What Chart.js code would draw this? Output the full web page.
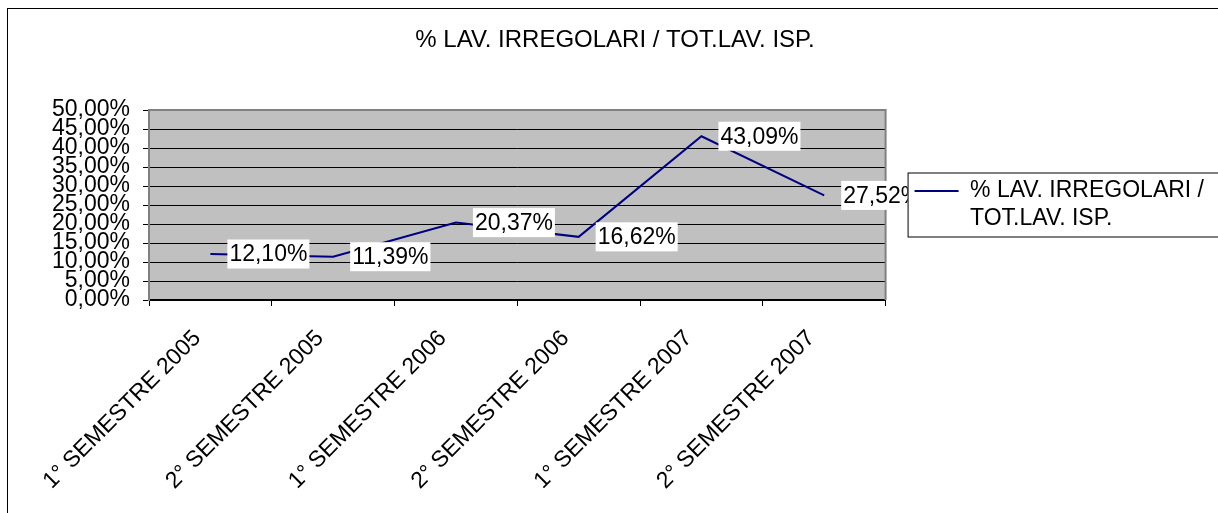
<!DOCTYPE html>
<html>
<head>
<meta charset="utf-8">
<script src="https://cdn.jsdelivr.net/npm/chart.js@4.4.1/dist/chart.umd.min.js"></script>
<style>
  html, body { margin: 0; padding: 0; background: #fff; }
  #wrap { width: 1218px; height: 513px; position: relative; }
</style>
</head>
<body>
<div id="wrap"><canvas id="my-chart"></canvas></div>
<script>
'use strict';

// ******** DATA **************
let chartTitle = '% LAV. IRREGOLARI / TOT.LAV. ISP.';
let semesters = [
  '1° SEMESTRE 2005',
  '2° SEMESTRE 2005',
  '1° SEMESTRE 2006',
  '2° SEMESTRE 2006',
  '1° SEMESTRE 2007',
  '2° SEMESTRE 2007'
];
let irregularPct = [12.10, 11.39, 20.37, 16.62, 43.09, 27.52];
let yMin = 0;
let yMax = 50;
let yStep = 5;

// ******** HELPERS **************
let fontFamily = '"Liberation Sans", Arial, sans-serif';
let fontSize = 23;
Chart.defaults.font.family = fontFamily;
Chart.defaults.color = '#000';

function formatPct(v) {
  return v.toFixed(2).replace('.', ',') + '%';
}

// gray plot area + frame
let plotBackground = {
  id: 'plotBackground',
  beforeDraw(chart) {
    let { ctx, chartArea } = chart;
    ctx.save();
    ctx.fillStyle = '#fff';
    ctx.fillRect(0, 0, chart.width, chart.height);
    ctx.fillStyle = '#c0c0c0';
    ctx.fillRect(chartArea.left, chartArea.top, chartArea.right - chartArea.left, chartArea.bottom - chartArea.top);
    ctx.restore();
  },
  beforeDatasetsDraw(chart) {
    let { ctx, chartArea } = chart;
    ctx.save();
    ctx.strokeStyle = '#808080';
    ctx.lineWidth = 2;
    ctx.beginPath();
    ctx.moveTo(chartArea.left, chartArea.top);
    ctx.lineTo(chartArea.right, chartArea.top);
    ctx.lineTo(chartArea.right, chartArea.bottom);
    ctx.stroke();
    ctx.restore();
  }
};

// value labels with white box, right of each point
let valueLabels = {
  id: 'valueLabels',
  afterDatasetsDraw(chart) {
    let { ctx } = chart;
    let meta = chart.getDatasetMeta(0);
    let values = chart.data.datasets[0].data;
    ctx.save();
    ctx.font = fontSize + 'px ' + fontFamily;
    ctx.textBaseline = 'middle';
    meta.data.forEach((pt, i) => {
      let text = formatPct(values[i]);
      let w = ctx.measureText(text).width + 4;
      let h = 29;
      let x = pt.x + 17;
      ctx.fillStyle = '#fff';
      ctx.fillRect(x, pt.y - h / 2, w, h);
      ctx.fillStyle = '#000';
      ctx.fillText(text, x + 2, pt.y + 1);
    });
    ctx.restore();
  }
};

// legend frame drawn over labels, outer chart border
let frames = {
  id: 'frames',
  afterDraw(chart) {
    let { ctx } = chart;
    let lg = chart.legend;
    let hb = lg.legendHitBoxes[0];
    ctx.save();
    let bx = hb.left - 7;
    let by = hb.top - 7;
    ctx.fillStyle = '#fff';
    ctx.fillRect(bx, by, chart.width - bx + 20, 64);
    ctx.strokeStyle = '#000';
    ctx.lineWidth = 1;
    ctx.strokeRect(bx + 0.5, by + 0.5, chart.width - bx + 20, 64);
    ctx.restore();
    lg.draw();

    ctx.save();
    ctx.strokeStyle = '#000';
    ctx.lineWidth = 1;
    ctx.strokeRect(7.5, 8.5, chart.width + 20, chart.height + 20);
    ctx.restore();
  }
};

// ******** CHART **************
let canvasElem = document.getElementById('my-chart');

let config = {
  type: 'line',
  data: {
    labels: semesters,
    datasets: [{
      label: chartTitle,
      data: irregularPct,
      borderColor: '#000080',
      backgroundColor: '#000080',
      borderWidth: 2,
      pointRadius: 0,
      tension: 0
    }]
  },
  options: {
    responsive: true,
    maintainAspectRatio: false,
    animation: false,
    layout: { padding: { left: 16, right: 4 } },
    scales: {
      x: {
        offset: true,
        afterFit(scale) { scale.height = 213; },
        grid: { offset: true, drawOnChartArea: false, color: '#000', tickLength: 6 },
        border: { color: '#000', width: 2 },
        ticks: {
          minRotation: 45,
          maxRotation: 45,
          autoSkip: false,
          padding: 19,
          labelOffset: -13,
          color: '#000',
          font: { size: fontSize }
        }
      },
      y: {
        min: yMin,
        max: yMax,
        afterFit(scale) { scale.width = 133; },
        grid: { color: '#000', lineWidth: 1, tickLength: 6 },
        border: { color: '#808080', width: 2 },
        ticks: {
          stepSize: yStep,
          autoSkip: false,
          padding: 13,
          color: '#000',
          font: { size: fontSize },
          callback: (v) => formatPct(v)
        }
      }
    },
    plugins: {
      title: {
        display: true,
        text: chartTitle,
        color: '#000',
        font: { size: 24, weight: 'normal' },
        padding: { top: 25.6, bottom: 55.6 }
      },
      tooltip: { enabled: false },
      legend: {
        position: 'right',
        fullSize: false,
        maxWidth: 350,
        align: 'start',
        title: { display: true, text: '', font: { size: 1 }, padding: { top: 39.3, bottom: 0 } },
        labels: {
          color: '#000',
          font: { size: fontSize },
          padding: 29,
          usePointStyle: true,
          pointStyleWidth: 44,
          generateLabels(chart) {
            let ds = chart.data.datasets[0];
            return [{
              text: ds.label.replace('/ ', '/\n').split('\n'),
              strokeStyle: ds.borderColor,
              fillStyle: ds.borderColor,
              lineWidth: 2,
              pointStyle: 'line',
              datasetIndex: 0,
              hidden: false
            }];
          }
        }
      }
    }
  },
  plugins: [plotBackground, valueLabels, frames]
};

new Chart(canvasElem, config);
</script>
</body>
</html>
